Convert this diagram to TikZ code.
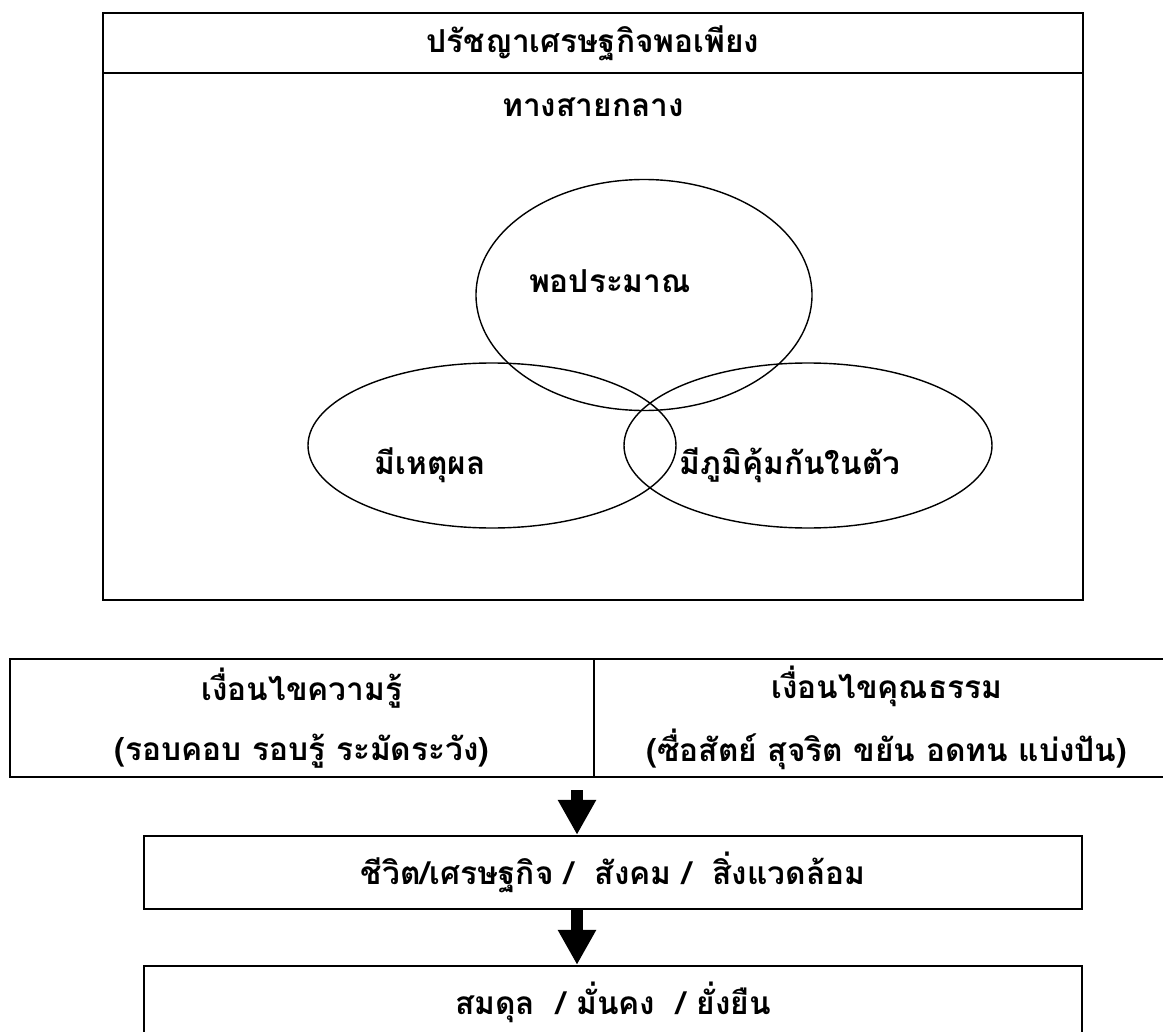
\documentclass[tikz,border=0pt]{standalone}
\usepackage{fontspec}
\newfontfamily\thai[Script=Thai]{Loma}
\usetikzlibrary{arrows.meta,shapes.geometric}

\begin{document}
\begin{tikzpicture}[y=-1cm,font=\thai\bfseries\fontsize{18}{22}\selectfont]
	\tikzset{khrop/.style={draw,line width=1.3pt,inner sep=0pt},
		wong/.style={draw,ellipse,line width=0.8pt,inner sep=0pt},
		luk/.style={line width=0.24cm,-{Triangle[width=0.72cm,length=0.7cm]}}}
	\useasboundingbox (0,0) rectangle (23.26,20.64);
	
	% กรอบบน: ปรัชญาเศรษฐกิจพอเพียง
	\path (11.86,0.86) node[khrop,minimum width=19.6cm,minimum height=1.2cm] (PRC) {ปรัชญาเศรษฐกิจพอเพียง}
	(11.86,6.73) node[khrop,minimum width=19.6cm,minimum height=10.54cm] (KL) {}
	(11.86,2.14) node (TSK) {ทางสายกลาง}
	
	% วงรีสามห่วง
	(12.88,5.9) node[wong,minimum width=6.72cm,minimum height=4.62cm] (ePPM) {}
	(9.84,8.91) node[wong,minimum width=7.36cm,minimum height=3.3cm] (eMHP) {}
	(16.16,8.91) node[wong,minimum width=7.36cm,minimum height=3.3cm] (eMPK) {}
	(12.2,5.62) node (PPM) {พอประมาณ}
	(8.6,9.3) node (MHP) {มีเหตุผล}
	(15.8,9.3) node (MPK) {มีภูมิคุ้มกันในตัว}
	
	% สองเงื่อนไข
	(6.04,14.36) node[khrop,minimum width=11.68cm,minimum height=2.36cm,align=center] (KR) {เงื่อนไขความรู้\\[12pt](รอบคอบ รอบรู้ ระมัดระวัง)}
	(17.74,14.36) node[khrop,minimum width=11.72cm,minimum height=2.36cm,align=center] (KT) {เงื่อนไขคุณธรรม\\[12pt](ซื่อสัตย์ สุจริต ขยัน อดทน แบ่งปัน)}
	
	% ผลลัพธ์
	(12.26,17.45) node[khrop,minimum width=18.76cm,minimum height=1.46cm] (CV) {ชีวิต/เศรษฐกิจ / \ สังคม / \ สิ่งแวดล้อม}
	(12.26,20.05) node[khrop,minimum width=18.76cm,minimum height=1.46cm] (SD) {สมดุล \ / มั่นคง \ / ยั่งยืน};
	
	% ลูกศร
	\draw[luk] ([xshift=-0.72cm,yshift=-0.24cm]CV.north |- KR.south) -- ([xshift=-0.72cm]CV.north);
	\draw[luk] ([xshift=-0.72cm]CV.south) -- ([xshift=-0.72cm]SD.north);
\end{tikzpicture}
\end{document}
